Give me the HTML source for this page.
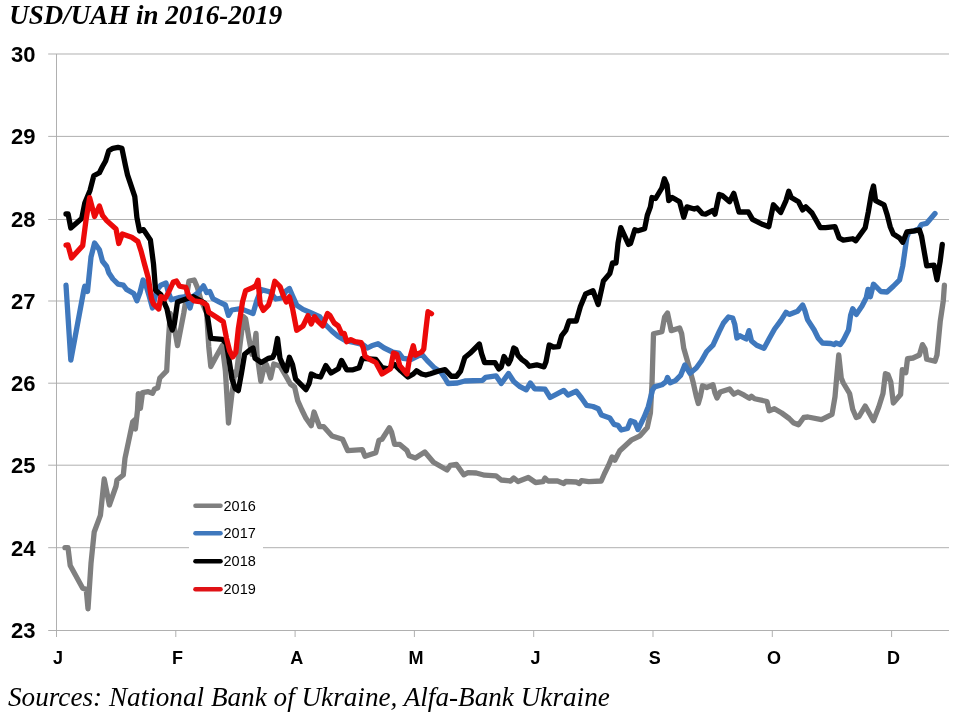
<!DOCTYPE html>
<html><head><meta charset="utf-8"><title>USD/UAH in 2016-2019</title>
<style>
html,body{margin:0;padding:0;background:#fff;}
body{width:960px;height:719px;overflow:hidden;position:relative;}
svg{position:absolute;left:0;top:0;display:block;}
.t{font-family:"Liberation Serif","Times New Roman",serif;font-style:italic;}
.s{font-family:"Liberation Sans","DejaVu Sans",sans-serif;}
</style></head><body>
<svg width="960" height="719" viewBox="0 0 960 719">
<rect x="0" y="0" width="960" height="719" fill="#ffffff"/>
<!-- gridlines -->
<g stroke="#acacac" stroke-width="0.95" fill="none" shape-rendering="auto">
<line x1="48.2" y1="54.0" x2="949" y2="54.0"/>
<line x1="48.2" y1="136.4" x2="949" y2="136.4"/>
<line x1="48.2" y1="219.5" x2="949" y2="219.5"/>
<line x1="48.2" y1="301" x2="949" y2="301"/>
<line x1="48.2" y1="383.2" x2="949" y2="383.2"/>
<line x1="48.2" y1="465.2" x2="949" y2="465.2"/>
<line x1="48.2" y1="547.7" x2="949" y2="547.7"/>
<line x1="48.2" y1="630.5" x2="949" y2="630.5"/>
<line x1="56.5" y1="54" x2="56.5" y2="630.5"/>
<line x1="56.5" y1="630.5" x2="56.5" y2="637"/>
<line x1="175.8" y1="630.5" x2="175.8" y2="637"/>
<line x1="295.1" y1="630.5" x2="295.1" y2="637"/>
<line x1="414.4" y1="630.5" x2="414.4" y2="637"/>
<line x1="533.7" y1="630.5" x2="533.7" y2="637"/>
<line x1="653" y1="630.5" x2="653" y2="637"/>
<line x1="772.3" y1="630.5" x2="772.3" y2="637"/>
<line x1="891.6" y1="630.5" x2="891.6" y2="637"/>
</g>
<!-- series -->
<g fill="none" stroke-width="5.3" stroke-linejoin="round" stroke-linecap="round">
<polyline stroke="#7f7f7f" points="65,547.7 68,547.7 70.2,565.4 82.7,588.3 86.25,589.4 88,608.75 91,563.3 94.2,532 100.4,515.4 104.2,479 109.4,505 116,486.25 117,480 123.3,475 125,458.3 128.5,441.7 132.7,421.9 134.8,419.8 135.4,429 137.5,410.4 138.3,393.75 140.4,408.3 142.5,392.7 148.3,391.7 152.5,393.3 154.6,389 157.7,388 159.8,378 166.7,370.8 168,346.7 170.2,313.3 173.3,321.7 177.5,345.6 183.75,313.3 189,281 194.2,280 197.3,287.3 201,300 206.7,313.3 208.75,346.7 210.8,366.5 217,355 222.3,345.6 225.4,371 228.5,423 231.7,395.8 234.8,372 236.25,375 240.4,341.7 243.5,316.7 245.6,318.75 248.75,337.5 251.9,354.2 254,348 256,333.3 257,354.2 260.8,381.25 264.4,366 266.5,364.6 270.6,378 273.75,364 280,366 286.25,376.7 290.4,384 294.6,387 297.7,400.6 301.9,410 306,418.3 311.25,425.6 314,412 319.6,426.7 323.75,426.7 332,436 342.5,439.2 347.7,450.6 362.3,449.6 365,456.25 375.8,452.7 379,440.2 382,439.2 389.4,427.7 391.5,431.9 394.6,444.4 399.8,444.4 407,450.6 409.2,455.8 415.4,458 424.8,452 433.5,462.3 447,470 450.2,465.4 456.5,464.4 463.75,474.8 468,472.7 476.25,473 484.6,475.2 496,475.8 501.25,480 510.6,481 513.75,478 518,481.5 528.3,477.5 535.6,482.5 543,481.7 545,478 548,481 557.5,481 563.75,483.5 565.8,481.5 576.25,482 579.4,483.5 581.5,480.6 588.75,481.7 601.25,481 604.4,473.75 608.5,465.4 612,457 614.8,460.2 619.8,450.8 631.7,439.8 640,435.8 647.3,427.5 650.4,413 652,383.75 653.5,333.75 661.9,331.7 664.6,317 667.5,313 671.25,330.6 679.6,328 681.7,333.75 683.75,348.3 688,363 693,381.7 696.25,396.25 698.3,403.5 700.4,396.25 702.5,385.8 706.7,387.5 713,384.8 715,393 717,398 720.2,392 729.6,389 733.75,394.2 738,392 744.2,395.2 749.4,398.3 751.5,396.25 754.6,398.75 767,401.5 769.2,410.8 774.4,408.75 781.7,413 789.2,418.5 793.3,422.7 798.5,424.8 803.75,417.5 808,417 821.5,419.6 832,414.4 835,396.7 837,373.75 838.75,355 841.25,378 843.3,383 849.6,393.5 852.7,409.2 856.25,417.5 859,416.5 865.2,406 873.5,420.6 878.75,407 883,393.5 885.4,373.75 888,374.8 890.8,382 893.3,403 900.6,394.6 902.3,369.6 905.8,372.7 907.5,358.75 913,358 919.4,355 922.5,344.6 925,348.75 926.7,359.2 935,361.25 937,355 940.2,321.7 943.3,300.8 944.4,285.2"/>
<polyline stroke="#3f78bd" points="66,285.2 70.8,360.2 83.75,290.4 84.8,286.25 87.5,291.5 91,257 94.6,243 99.4,249.8 102.5,261.25 106.7,266.5 108.75,272.7 112.9,279 118.1,284.2 123.3,285.2 126.5,289.4 133.75,293.5 136.9,300.8 140,292.5 143.1,280 146.25,286.25 149.4,296.7 152.5,308 156.7,290.4 160.8,285.2 166,283 168,291.5 171.25,299.8 178.5,297.7 185.8,296.7 190,308 193,296.7 198.3,292.5 203.5,285.8 206.7,292.5 209.8,291.5 213,298.75 219,301.9 225.4,305 228.5,315.4 231.7,310 238,309 242.5,309.4 253,313.5 257,300 261.25,289.6 269.6,291.7 275.8,299 282,298 286.25,290.6 289.4,288.5 292.5,295.8 296.7,305.2 303,309.4 310.2,312.5 319.6,316.7 325.8,325 332,331.25 338.3,336.5 345.6,340.6 355,342.7 363.3,344.8 367.5,348 371.7,345.8 378,343.75 384.2,348 392.5,352 398.75,353 403,358.3 411.25,359.4 421.7,354.2 427,360.4 434.6,368 440.8,372 445,378.3 448,383.5 457.5,383 464.8,381 482.5,380.4 485.6,377.3 496,375.8 501.25,383.5 508.5,373.5 513.75,381.5 520,386.7 526.25,389.8 530.4,383 534.6,388.75 545,389.2 550.2,397.5 563.75,390.4 568,395 576.25,391.25 581.5,398 586.7,405.4 593,406.5 598.3,408.75 601.5,415 609.8,418 614,424.4 618,425.4 621.25,430 627.5,428.5 630.6,420.8 634.8,422.3 638,429.6 644.2,417 648.3,406.7 652.5,390 654.6,386.9 661.9,384.8 666,381.7 667.5,377.5 670.2,382.7 675.4,380.6 680.6,375.4 684.8,365 690,373.3 696.25,368 701.5,360.8 706.7,351.5 713,345.2 719.2,331.7 723.3,323.3 728.5,317 732.7,318 734.8,324.4 736.9,338 740,335.8 746.25,339 749,330.6 751.5,341 756.7,345.2 764,348.3 769.4,338.3 774.6,329 780.8,320.6 786,312.3 789.2,314.4 797.5,311.25 802.7,305 804.8,310.2 807.5,319.6 814.2,330 818.3,338.3 822.5,343 830.8,343.5 834,344.6 836,343 840.2,344.6 843.3,340.4 848.5,330 850.6,315.4 852.7,308.75 856.25,314.4 862,306 866.25,297.7 868,289.4 870.4,296.7 873.5,284.2 880.8,291.5 887,292 893.3,286.25 899.6,279.8 902.7,266.25 904.8,251.7 906.9,237 909,232 914,231 919,228.6 921.5,224.5 926.7,223.3 935,213.5"/>
<polyline stroke="#000000" points="66,214 68.1,214 70.8,228 81.7,218.5 84.8,203 90,190.4 93.75,175.8 99.4,172.7 102.5,166.5 105.6,161 108.75,150.8 112.9,148.3 118,147.3 121.9,148.3 125.4,165.4 127.5,174.8 134.8,196.7 136.9,217.5 139.6,231 143.5,229.6 150.4,240 153.5,264 155.6,290.4 160.8,294.6 167,309 170.2,324.8 172.3,330 174.4,323.75 177.5,301.9 183.75,299.8 193,296.7 204.6,303 207.7,317.5 210.8,338.3 222.3,339.4 226.5,343.5 229.6,363.3 232,379 235.2,388.5 238.3,390.6 241.5,373 244.6,354.2 249.8,350 253,348 255,358.3 261.25,362.5 268.5,358.3 272.7,357.3 274.8,353 277.5,338.5 280,358.3 283.75,366.7 286.25,370.8 289.4,357.3 292.5,364.6 295.6,379 299.8,383.3 306,389.6 309.2,383.3 311.25,374 315.4,376 320.6,377 325.8,365.6 331,373 338.3,368.75 341.5,360.4 346.7,369.8 353,369.8 359.2,367.7 362.3,358.3 375.8,359.4 382,367.7 388.3,368.75 394.6,364.6 400.8,370.8 408,377 413.3,374 416.5,370.8 421.7,374 425.8,375 430.4,373.75 438.75,371 445,369.6 451.25,376.25 456.5,376.25 460.6,371 464.8,357.5 470,353.3 479.4,344 481.5,353.3 484.6,362.7 495,362.7 498.75,369 501.25,366.9 504,356.5 508.5,363.75 510.6,359.6 513.75,348 515.8,349.2 518,355.4 522,359.6 526.25,362.7 529.4,366.25 536.7,364.8 544,366.9 546,361.7 549.2,345 553.3,347 558.5,346.7 561.7,335.6 565.8,330.4 569,321 576.25,321 580.4,306.5 585.6,294 593,290.8 598.2,304.5 603.4,281 609.8,273.5 612.5,263 616,263 618,243.3 620.8,227.7 628.5,244.4 630.6,243.3 634.8,229.8 638,230.8 644.6,228.75 647.3,215.2 650.4,206.9 652,197.5 655.6,198.5 661.9,188 664.4,178.75 667,185 668.75,200.6 672.3,197.5 679.6,201.7 683.75,217.3 686.9,206.9 694.2,209 697.3,208 702.5,213.75 705.6,214.2 713,210.4 715,214.2 719.2,194.4 722.3,195.4 729.6,201.7 733.75,193.3 739,212 748.3,212 752.5,219.4 763,224.6 768.8,226.7 773.4,204.8 780.7,212.5 786,200.6 788.75,191.25 791.25,197.5 798.5,201.7 802.7,210 805.8,206.9 812,213 820.4,227.7 825.6,227.7 835,226.7 839.2,238 843.3,240.2 852.7,238.75 855.8,240.8 865.2,227.7 868.3,212 871.5,193.3 873.5,186 875.6,200.6 884,204.8 887,214.2 890.2,226.7 893.3,234 899.6,238 902.7,242.3 906.9,231.9 914.2,230.8 919.4,229.8 921.5,236 926.7,265.8 934,265.2 937,279.8 940.2,261 942.3,244.4"/>
<polyline stroke="#ec0a0a" points="66,245.2 68,245 71.5,258 82.7,245.6 85.8,221.7 89.6,197.7 94.6,216.5 99.4,206 102.5,215.4 106.7,220.6 116,229 118.75,243.5 122.3,234 131.7,237.3 137.9,241.5 141,250.8 144.2,263 148.3,278 151.5,298.75 153.5,304 158.75,309 160.8,296.7 165,298.75 168,293.5 173.3,282 176.5,281 179.6,286.25 185.8,287.3 189,296.7 194.2,300.8 201.5,301.9 206.7,305 208.75,312.3 217,317.5 223.3,321.7 226.5,338.3 229.6,350.8 232.7,357 235.8,352.5 238.3,329 242.5,302 245.6,290.6 253,287.5 256,285.4 258,280.2 260.2,304 263.3,310.4 268.5,305.2 271.7,294.8 274.8,281.25 280,286.5 283,294.8 286.25,302 289.4,296.9 292.5,308.3 296.7,330.2 303,326 308,315.6 311.25,324 314.4,316.7 317.5,320.8 322.7,326 327.5,313.5 330,315.6 334.2,323 338.3,326 341.5,333.3 344.2,333.3 346.7,341.7 350.8,339.6 355,341.7 361.25,342.7 363.3,348 365,356.25 371.7,360.4 375.8,362.5 382,374 390.4,368.75 393.5,353 396.7,354.2 399.8,365.6 407,374 409.2,360.4 413.3,345.8 415.4,355.2 421.7,352 423.75,349 425.8,330.4 428,311.7 431.5,313.75"/>
</g>
<!-- legend -->
<rect x="189" y="494" width="74" height="108" fill="#ffffff"/>
<g fill="none" stroke-width="4.6" stroke-linecap="round">
<line x1="195.5" y1="505.8" x2="220.5" y2="505.8" stroke="#7f7f7f"/>
<line x1="195.5" y1="533.3" x2="220.5" y2="533.3" stroke="#3f78bd"/>
<line x1="195.5" y1="561.2" x2="220.5" y2="561.2" stroke="#000000"/>
<line x1="195.5" y1="589.2" x2="220.5" y2="589.2" stroke="#e01216"/>
</g>
<g class="s" font-size="14.5" fill="#000">
<text x="223.5" y="510.6">2016</text>
<text x="223.5" y="538.1">2017</text>
<text x="223.5" y="566">2018</text>
<text x="223.5" y="594">2019</text>
</g>
<!-- y labels -->
<g class="s" font-size="22" font-weight="bold" fill="#000" text-anchor="end">
<text x="35.6" y="61.7">30</text>
<text x="35.6" y="144.1">29</text>
<text x="35.6" y="226.7">28</text>
<text x="35.6" y="308.5">27</text>
<text x="35.6" y="390.9">26</text>
<text x="35.6" y="473.0">25</text>
<text x="35.6" y="555.7">24</text>
<text x="35.6" y="638.2">23</text>
</g>
<!-- x labels -->
<g class="s" font-size="18" font-weight="bold" fill="#000" text-anchor="middle">
<text x="58.0" y="664.3">J</text>
<text x="177.5" y="664.3">F</text>
<text x="296.7" y="664.3">A</text>
<text x="416.0" y="664.3">M</text>
<text x="535.4" y="664.3">J</text>
<text x="654.7" y="664.3">S</text>
<text x="774.1" y="664.3">O</text>
<text x="893.4" y="664.3">D</text>
</g>
<text class="t" x="9.2" y="24.3" font-size="27" font-weight="bold" fill="#000">USD/UAH in 2016-2019</text>
<text class="t" x="8" y="706.2" font-size="27.2" fill="#000">Sources: National Bank of Ukraine, Alfa-Bank Ukraine</text>
</svg>
</body></html>
